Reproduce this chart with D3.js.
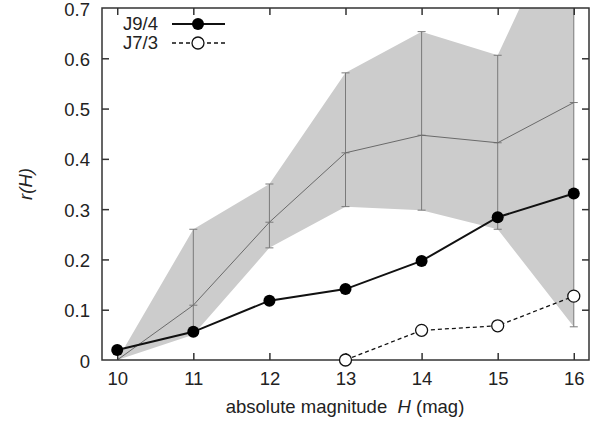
<!DOCTYPE html>
<html>
<head>
<meta charset="utf-8">
<script src="https://cdn.jsdelivr.net/npm/d3@7"></script>
<style>
  html, body { margin: 0; padding: 0; background: #fff; }
  svg { display: block; font-family: "Liberation Sans", Arial, sans-serif; }
</style>
</head>
<body>
<svg id="chart" width="601" height="425"></svg>
<script>
// absolute magnitude H
const magnitudes = [10, 11, 12, 13, 14, 15, 16];
// J9/4 resonance ratio
const j94 = [0.02, 0.056, 0.118, 0.141, 0.197, 0.284, 0.331];
// J7/3 resonance ratio (defined from H = 13)
const j73Mag = [13, 14, 15, 16];
const j73 = [0.0, 0.059, 0.068, 0.127];
// model mean with its lower/upper envelope
const modelMean  = [0.0, 0.109, 0.274, 0.412, 0.447, 0.432, 0.512];
const modelLower = [0.0, 0.05, 0.223, 0.305, 0.298, 0.260, 0.066];
const modelUpper = [0.0, 0.260, 0.350, 0.571, 0.653, 0.606, 0.93];

const xTicks = [10, 11, 12, 13, 14, 15, 16];
const yTicks = [0, 0.1, 0.2, 0.3, 0.4, 0.5, 0.6, 0.7];

const FONT = "18.5px";
const margin = { left: 102, right: 12, top: 8, bottom: 65 };
const W = 601, H = 425;
const svg = d3.select("#chart");

const x = d3.scaleLinear().domain([9.8, 16.2]).range([margin.left, W - margin.right]);
const y = d3.scaleLinear().domain([0, 0.7]).range([H - margin.bottom, margin.top]);

svg.append("defs").append("clipPath").attr("id", "plot-clip")
  .append("rect")
  .attr("x", x.range()[0]).attr("y", y.range()[1])
  .attr("width", x.range()[1] - x.range()[0])
  .attr("height", y.range()[0] - y.range()[1]);

const plot = svg.append("g").attr("clip-path", "url(#plot-clip)");

const model = magnitudes.map((m, i) => ({ m, mean: modelMean[i], lo: modelLower[i], hi: modelUpper[i] }));

// envelope
plot.append("path")
  .datum(model)
  .attr("fill", "#cccccc")
  .attr("d", d3.area().x(d => x(d.m)).y0(d => y(d.lo)).y1(d => y(d.hi)));

// error bars
const eb = plot.append("g").attr("stroke", "#7a7a7a").attr("stroke-width", 1);
model.slice(1).forEach(d => {
  eb.append("line").attr("x1", x(d.m)).attr("x2", x(d.m)).attr("y1", y(d.lo)).attr("y2", y(d.hi));
  [d.lo, d.hi, d.mean].forEach(v => {
    eb.append("line").attr("x1", x(d.m) - 4).attr("x2", x(d.m) + 4).attr("y1", y(v)).attr("y2", y(v));
  });
});

// mean line
plot.append("path")
  .datum(model)
  .attr("fill", "none").attr("stroke", "#6a6a6a").attr("stroke-width", 1)
  .attr("d", d3.line().x(d => x(d.m)).y(d => y(d.mean)));

// J7/3 dashed series
const s73 = j73Mag.map((m, i) => ({ m, v: j73[i] }));
svg.append("path")
  .datum(s73)
  .attr("fill", "none").attr("stroke", "#111").attr("stroke-width", 1.3)
  .attr("stroke-dasharray", "4,3")
  .attr("d", d3.line().x(d => x(d.m)).y(d => y(d.v)));

// J9/4 solid series
const s94 = magnitudes.map((m, i) => ({ m, v: j94[i] }));
svg.append("path")
  .datum(s94)
  .attr("fill", "none").attr("stroke", "#111").attr("stroke-width", 2)
  .attr("d", d3.line().x(d => x(d.m)).y(d => y(d.v)));

// frame
const frame = svg.append("g").attr("stroke", "#333").attr("stroke-width", 1.5).attr("fill", "none");
frame.append("rect")
  .attr("x", x.range()[0]).attr("y", y.range()[1])
  .attr("width", x.range()[1] - x.range()[0])
  .attr("height", y.range()[0] - y.range()[1]);

// axes with inward ticks, mirrored on top and right
const tickLen = 7;
const xb = svg.append("g").attr("transform", `translate(0,${y(0)})`)
  .call(d3.axisBottom(x).tickValues(xTicks).tickSize(-tickLen).tickPadding(12).tickFormat(d3.format("d")));
const xt = svg.append("g").attr("transform", `translate(0,${y(0.7)})`)
  .call(d3.axisTop(x).tickValues(xTicks).tickSize(-tickLen).tickFormat(""));
const yl = svg.append("g").attr("transform", `translate(${x(9.8)},0)`)
  .call(d3.axisLeft(y).tickValues(yTicks).tickSize(-tickLen).tickPadding(12)
    .tickFormat(d => d === 0 ? "0" : d3.format(".1f")(d)));
const yr = svg.append("g").attr("transform", `translate(${x(16.2)},0)`)
  .call(d3.axisRight(y).tickValues(yTicks).tickSize(-tickLen).tickFormat(""));

[xb, xt, yl, yr].forEach(g => {
  g.select(".domain").remove();
  g.selectAll(".tick line").attr("stroke", "#333").attr("stroke-width", 1.5);
  g.selectAll(".tick text").attr("fill", "#222").style("font-size", FONT);
});
yl.selectAll(".tick text").attr("dy", "0.38em");
// corner ticks would only duplicate the border
yl.selectAll(".tick").filter(d => d === 0 || d === 0.7).select("line").remove();
yr.selectAll(".tick").filter(d => d === 0 || d === 0.7).select("line").remove();

// markers
svg.append("g").selectAll("circle").data(s73).join("circle")
  .attr("cx", d => x(d.m)).attr("cy", d => y(d.v)).attr("r", 6)
  .attr("fill", "#fff").attr("stroke", "#111").attr("stroke-width", 1.3);
svg.append("g").selectAll("circle").data(s94).join("circle")
  .attr("cx", d => x(d.m)).attr("cy", d => y(d.v)).attr("r", 6)
  .attr("fill", "#000");

// legend
const legend = svg.append("g").style("font-size", FONT).attr("fill", "#222");
legend.append("text").attr("x", 123).attr("y", 30).text("J9/4");
legend.append("line").attr("x1", 172).attr("x2", 225).attr("y1", 24).attr("y2", 24)
  .attr("stroke", "#111").attr("stroke-width", 2);
legend.append("circle").attr("cx", 198).attr("cy", 24).attr("r", 6).attr("fill", "#000");
legend.append("text").attr("x", 123).attr("y", 49).text("J7/3");
legend.append("line").attr("x1", 172).attr("x2", 225).attr("y1", 43).attr("y2", 43)
  .attr("stroke", "#111").attr("stroke-width", 1.3).attr("stroke-dasharray", "4,3");
legend.append("circle").attr("cx", 198).attr("cy", 43).attr("r", 6)
  .attr("fill", "#fff").attr("stroke", "#111").attr("stroke-width", 1.3);

// axis titles
const xTitle = svg.append("text")
  .attr("x", 345).attr("y", 413).attr("text-anchor", "middle")
  .style("font-size", FONT).attr("fill", "#222");
xTitle.append("tspan").text("absolute magnitude\u00a0\u00a0");
xTitle.append("tspan").style("font-style", "italic").text("H");
xTitle.append("tspan").text(" (mag)");

svg.append("text")
  .attr("transform", `translate(32,${(y(0) + y(0.7)) / 2}) rotate(-90)`)
  .attr("text-anchor", "middle")
  .style("font-size", FONT).style("font-style", "italic").attr("fill", "#222")
  .text("r(H)");
</script>
</body>
</html>
